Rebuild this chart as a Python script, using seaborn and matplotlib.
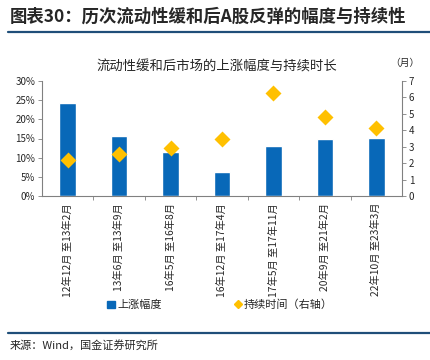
import matplotlib
matplotlib.use("Agg")
import matplotlib.pyplot as plt
import seaborn as sns
import pandas as pd
from matplotlib.lines import Line2D
from matplotlib.patches import Patch

categories = ["12年12月 至13年2月", "13年6月 至13年9月", "16年5月 至16年8月",
              "16年12月 至17年4月", "17年5月 至17年11月", "20年9月 至21年2月",
              "22年10月 至23年3月"]
gain_pct = [24.3, 15.7, 11.4, 6.2, 13.0, 14.95, 15.05]
duration_months = [2.2, 2.56, 2.94, 3.45, 6.29, 4.83, 4.12]
left_ticks = [0, 5, 10, 15, 20, 25, 30]
right_ticks = [0, 1, 2, 3, 4, 5, 6, 7]

BLUE = "#0868B8"
GOLD = "#FFC000"
NAVY = "#1F4E79"

sns.set_theme(style="white")
plt.rcParams['font.family'] = ['Noto Sans CJK SC', 'DejaVu Sans']
plt.rcParams['axes.unicode_minus'] = False

df = pd.DataFrame({"cat": categories, "gain": gain_pct, "dur": duration_months})

fig = plt.figure(figsize=(4.3, 3.6), dpi=100)
ax = fig.add_axes([42/430, 1-196/360, 360/430, 115/360])

sns.barplot(data=df, x="cat", y="gain", color=BLUE, width=0.32, saturation=1,
            ax=ax, zorder=2)
ax.set_ylim(0, 30)
ax.set_yticks(left_ticks)
ax.set_yticklabels([f"{t}%" for t in left_ticks], fontsize=7)
ax.set_xlabel("")
ax.set_ylabel("")
ax.set_xlim(-0.5, len(categories) - 0.5)
ax.set_xticks(range(len(categories)))
ax.set_xticklabels(categories, rotation=90, fontsize=7.4)
ax.tick_params(axis='x', length=0, pad=5)
ax.tick_params(axis='y', length=3, width=0.6, color="#808080", pad=2, left=True, direction='out')
ax.set_xticks([i + 0.5 for i in range(len(categories) - 1)], minor=True)
ax.tick_params(axis='x', which='minor', length=3, width=0.6, color="#808080", bottom=True, direction='out')

ax2 = ax.twinx()
sns.pointplot(x=df["cat"], y=df["dur"], color=GOLD, markers="D", linestyle="none",
              ax=ax2, zorder=3, markersize=6)
for c in ax2.collections:
    c.set_sizes([36])
    c.set_edgecolor(GOLD)
ax2.set_ylim(0, 7)
ax2.set_yticks(right_ticks)
ax2.set_yticklabels([str(t) for t in right_ticks], fontsize=7)
ax2.set_ylabel("")
ax2.set_xlabel("")
ax2.set_xlim(-0.5, len(categories) - 0.5)
ax2.tick_params(axis='y', length=3, width=0.6, color="#808080", pad=2, right=True, direction='out')

for a in (ax, ax2):
    a.spines["top"].set_visible(False)
    for s in ("left", "bottom", "right"):
        a.spines[s].set_color("#808080")
        a.spines[s].set_linewidth(0.8)
ax.spines["right"].set_visible(False)
ax2.spines["left"].set_visible(False)
ax2.spines["bottom"].set_visible(False)
ax.grid(False)
ax2.grid(False)

# header
fig.text(10/430, 1-17/360, "图表30：历次流动性缓和后A股反弹的幅度与持续性",
         fontsize=12.5, fontweight="bold", va="center", ha="left")
fig.add_artist(Line2D([8/430, 1.0], [1-32/360, 1-32/360], color=NAVY, lw=1.6))
fig.text(217/430, 1-67/360, "流动性缓和后市场的上涨幅度与持续时长",
         fontsize=9.6, va="center", ha="center")
fig.text(405/430, 1-63/360, "（月）", fontsize=7, va="center", ha="center")

handles = [Patch(facecolor=BLUE, edgecolor=BLUE, label="上涨幅度"),
           Line2D([], [], marker="D", color=GOLD, linestyle="none", markersize=4,
                  label="持续时间（右轴）")]
fig.legend(handles=handles, loc="center", bbox_to_anchor=(220/430, 1-305/360), ncol=2,
           frameon=False, fontsize=8, handlelength=0.7, handletextpad=0.2,
           columnspacing=6.5, borderaxespad=0)

fig.add_artist(Line2D([8/430, 1.0], [1-333/360, 1-333/360], color=NAVY, lw=1.6))
fig.text(10/430, 1-345/360, "来源：Wind，国金证券研究所", fontsize=8, va="center", ha="left")

fig.savefig("out.png", dpi=100)
